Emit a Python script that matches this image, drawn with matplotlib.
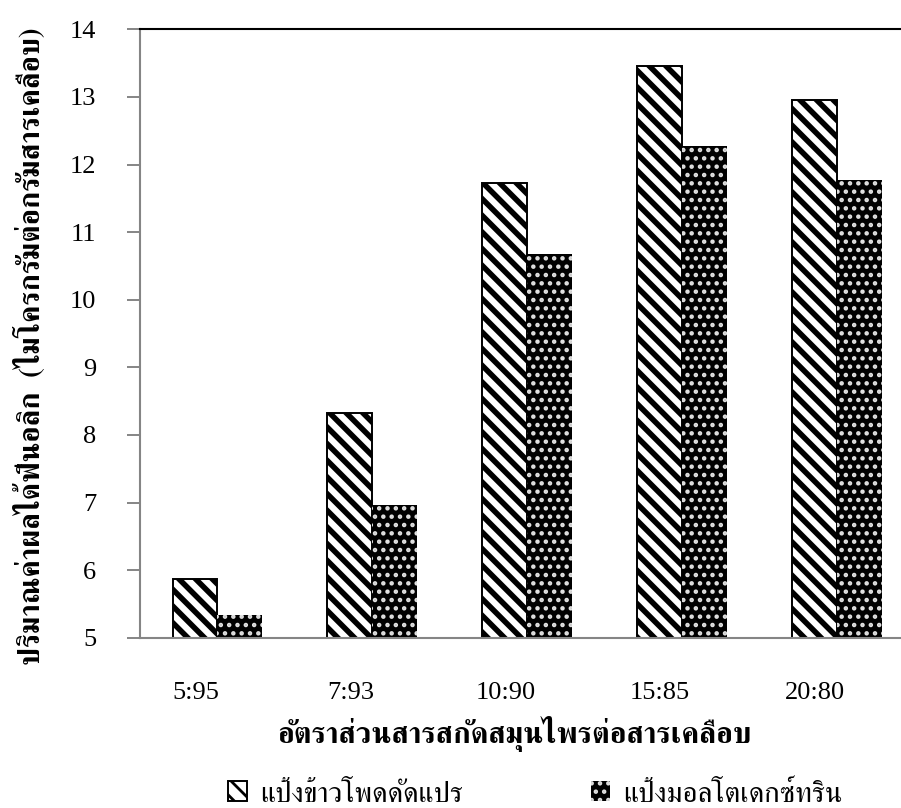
import matplotlib
matplotlib.use("Agg")
import matplotlib.pyplot as plt
import matplotlib.transforms as mtransforms
from matplotlib.legend_handler import HandlerTuple
import numpy as np

# data
ratios = ["5:95", "7:93", "10:90", "15:85", "20:80"]
corn_starch = [5.87, 8.33, 11.73, 13.46, 12.95]      # แป้งข้าวโพดดัดแปร
maltodextrin = [5.34, 6.97, 10.67, 12.28, 11.77]     # แป้งมอลโตเดกซ์ทริน
series_names = ["แป้งข้าวโพดดัดแปร", "แป้งมอลโตเดกซ์ทริน"]
y_ticks = [5, 6, 7, 8, 9, 10, 11, 12, 13, 14]
x_title = "อัตราส่วนสารสกัดสมุนไพรต่อสารเคลือบ"
y_title = "ปริมาณค่าผลได้ฟีนอลิก  (ไมโครกรัมต่อกรัมสารเคลือบ)"

thai_font = ["FreeSerif", "Liberation Serif", "DejaVu Sans"]
num_font = ["Liberation Serif", "DejaVu Serif"]
gray = "#858585"

W, H = 901, 808
fig = plt.figure(figsize=(W / 100, H / 100), dpi=100)
# plot area runs a bit past the right edge of the picture, as in the reference
ax = fig.add_axes([140 / W, (H - 637.7) / H, 774.5 / W, 608.4 / H])

x = np.arange(len(ratios))
bw = 0.29

plt.rcParams["hatch.linewidth"] = 4.0
b1 = ax.bar(x - bw / 2, corn_starch, bw, facecolor="white",
            edgecolor="black", linewidth=1.4, hatch="\\\\", zorder=2)

# black bars with small white dots
plt.rcParams["hatch.linewidth"] = 2.0
b2_back = ax.bar(x + bw / 2, maltodextrin, bw, facecolor="black", edgecolor="black",
                 linewidth=0, zorder=2)
b2_dots = ax.bar(x + bw / 2, maltodextrin, bw, facecolor="none", edgecolor="#e0e0e0",
                 linewidth=0, hatch="..", zorder=3)

ax.set_ylim(5, 14)
ax.set_xlim(-0.5, 4.5)
ax.set_yticks(y_ticks)
ax.set_yticklabels([str(v) for v in y_ticks], family=num_font, fontsize=19)
ax.set_xticks(x)
ax.set_xticklabels(ratios, family=num_font, fontsize=19)

ax.tick_params(axis="y", direction="out", length=9.4, width=1.4, color=gray, pad=22)
ax.tick_params(axis="x", length=0, pad=32)
shift = mtransforms.ScaledTranslation(-0.22, 0, fig.dpi_scale_trans)
for lbl in ax.get_xticklabels():
    lbl.set_transform(lbl.get_transform() + shift)

ax.spines["top"].set_color("black")
ax.spines["top"].set_linewidth(1.5)
ax.spines["left"].set_color(gray)
ax.spines["left"].set_linewidth(1.5)
ax.spines["bottom"].set_color(gray)
ax.spines["bottom"].set_linewidth(1.5)
ax.spines["right"].set_visible(False)

ax.set_xlabel(x_title, family=thai_font, fontsize=21.5, fontweight="bold", va="center")
ax.xaxis.set_label_coords((514 - 140) / 774.5, (637.7 - 734) / 608.4)
ax.set_ylabel(y_title, family=thai_font, fontsize=21, fontweight="bold", va="center")
ax.yaxis.set_label_coords((30 - 140) / 774.5, (637.7 - 346) / 608.4)

leg_fs = 21
fs_px = leg_fs * 100 / 72
leg = fig.legend([b1, (b2_back, b2_dots)], series_names, loc="center left",
                 bbox_to_anchor=(228 / W, 1 - 794 / H), ncol=2, frameon=False,
                 prop={"family": thai_font, "size": leg_fs},
                 handler_map={tuple: HandlerTuple(ndivide=1)},
                 handlelength=19 / fs_px, handleheight=20 / fs_px,
                 handletextpad=13 / fs_px, columnspacing=128 / fs_px,
                 borderpad=0, borderaxespad=0)

fig.savefig("out.png", dpi=100)
